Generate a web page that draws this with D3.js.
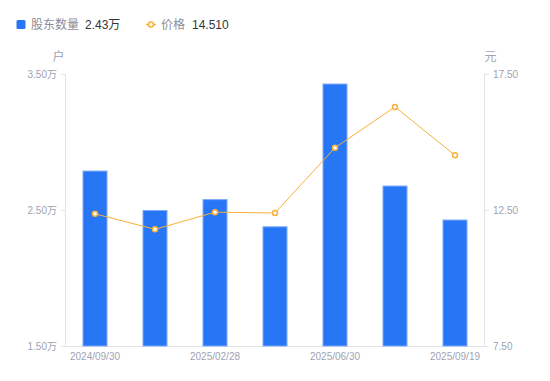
<!DOCTYPE html>
<html>
<head>
<meta charset="utf-8">
<script src="https://cdn.jsdelivr.net/npm/d3@7"></script>
<style>
  body { margin: 0; background: #fff; }
  svg text { font-family: "Liberation Sans", Arial, "Noto Sans CJK SC", sans-serif; }
</style>
</head>
<body>
<div id="chart"></div>
<script>
(function () {
  'use strict';

  // data
  var dates = ['2024/09/30', '2024/12/31', '2025/02/28', '2025/03/31', '2025/06/30', '2025/08/31', '2025/09/19'];
  var holders = [2.79, 2.50, 2.58, 2.38, 3.43, 2.68, 2.43];   // 万户
  var prices = [12.36, 11.79, 12.42, 12.39, 14.79, 16.29, 14.51]; // 元
  var holderTicks = [1.5, 2.5, 3.5];
  var priceTicks = [7.5, 12.5, 17.5];
  var shownDates = ['2024/09/30', '2025/02/28', '2025/06/30', '2025/09/19'];

  var width = 550, height = 381;
  var left = 65, right = 485, top = 74, bottom = 346;
  var blue = '#2776f6', orange = '#f8b03a', axisColor = '#e2e3e8', tickText = '#a0a3b1';

  var svg = d3.select('#chart').append('svg')
    .attr('width', width)
    .attr('height', height);

  var x = d3.scaleBand().domain(dates).range([left, right]);
  var yL = d3.scaleLinear().domain([1.5, 3.5]).range([bottom, top]);
  var yR = d3.scaleLinear().domain([7.5, 17.5]).range([bottom, top]);

  // legend
  var lg = svg.append('g').attr('font-size', 12);
  lg.append('rect').attr('x', 16.5).attr('y', 20).attr('width', 9).attr('height', 9).attr('rx', 1.5).attr('fill', blue);
  lg.append('text').attr('x', 31).attr('y', 29).attr('fill', '#8a8d99').text('股东数量');
  lg.append('text').attr('x', 85).attr('y', 29).attr('fill', '#33353c').text(holders[holders.length - 1].toFixed(2) + '万');
  lg.append('line').attr('x1', 146).attr('x2', 156).attr('y1', 24.5).attr('y2', 24.5).attr('stroke', orange).attr('stroke-width', 1.5);
  lg.append('circle').attr('cx', 151).attr('cy', 24.5).attr('r', 2.5).attr('fill', '#fff').attr('stroke', orange).attr('stroke-width', 1.5);
  lg.append('text').attr('x', 161).attr('y', 29).attr('fill', '#8a8d99').text('价格');
  lg.append('text').attr('x', 192).attr('y', 29).attr('fill', '#33353c').text(prices[prices.length - 1].toFixed(3));

  // unit labels
  svg.append('text').attr('x', 58.5).attr('y', 61).attr('text-anchor', 'middle')
    .attr('font-size', 12).attr('fill', tickText).text('户');
  svg.append('text').attr('x', 490.5).attr('y', 61).attr('text-anchor', 'middle')
    .attr('font-size', 12).attr('fill', tickText).text('元');

  // axes
  function styleAxis(g) {
    g.selectAll('.domain').remove();
    g.selectAll('line').attr('stroke', axisColor);
    g.selectAll('text').attr('fill', tickText).attr('font-size', 10);
  }

  svg.append('g')
    .attr('transform', 'translate(' + left + ',0)')
    .call(d3.axisLeft(yL).tickValues(holderTicks).tickSize(4).tickPadding(4)
      .tickFormat(function (d) { return d.toFixed(2) + '万'; }))
    .call(styleAxis);

  svg.append('g')
    .attr('transform', 'translate(' + right + ',0)')
    .call(d3.axisRight(yR).tickValues(priceTicks).tickSize(4).tickPadding(4)
      .tickFormat(function (d) { return d.toFixed(2); }))
    .call(styleAxis);

  svg.append('g')
    .attr('transform', 'translate(0,' + bottom + ')')
    .call(d3.axisBottom(x).tickValues(shownDates).tickSize(0).tickPadding(7))
    .call(styleAxis);

  svg.append('line').attr('x1', left + 0.5).attr('x2', left + 0.5).attr('y1', top).attr('y2', bottom).attr('stroke', axisColor);
  svg.append('line').attr('x1', right - 0.5).attr('x2', right - 0.5).attr('y1', top).attr('y2', bottom).attr('stroke', axisColor);
  svg.append('line').attr('x1', left).attr('x2', right).attr('y1', bottom + 0.5).attr('y2', bottom + 0.5).attr('stroke', axisColor);

  // bars
  var barW = 25;
  svg.append('g').selectAll('rect').data(holders).enter().append('rect')
    .attr('x', function (d, i) { return x(dates[i]) + x.bandwidth() / 2 - barW / 2 + 0.5; })
    .attr('y', function (d) { return yL(d) + 0.5; })
    .attr('width', barW - 1)
    .attr('height', function (d) { return bottom - yL(d) - 0.5; })
    .attr('fill', blue)
    .attr('stroke', '#7eaaf7')
    .attr('stroke-width', 1);

  // price line
  var line = d3.line()
    .x(function (d, i) { return x(dates[i]) + x.bandwidth() / 2; })
    .y(function (d) { return yR(d); });

  svg.append('path').datum(prices)
    .attr('d', line)
    .attr('fill', 'none')
    .attr('stroke', orange)
    .attr('stroke-width', 1);

  svg.append('g').selectAll('circle').data(prices).enter().append('circle')
    .attr('cx', function (d, i) { return x(dates[i]) + x.bandwidth() / 2; })
    .attr('cy', function (d) { return yR(d); })
    .attr('r', 2.5)
    .attr('fill', '#fff')
    .attr('stroke', orange)
    .attr('stroke-width', 1.5);
})();
</script>
</body>
</html>
